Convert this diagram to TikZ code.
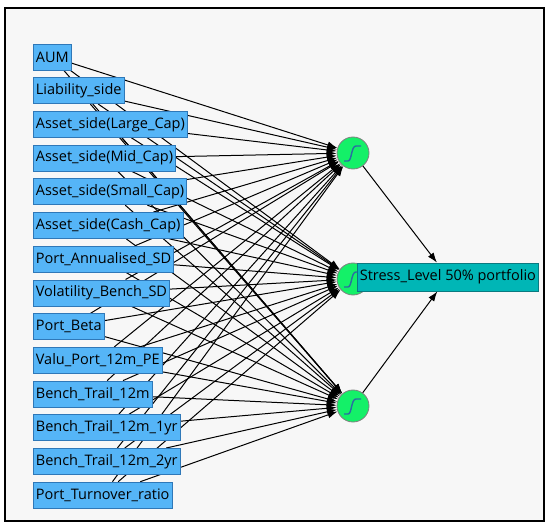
\documentclass[tikz,border=0pt]{standalone}
\usepackage{fontspec}
\setmainfont{Open Sans}
\usetikzlibrary{arrows.meta}
\pgfdeclarelayer{bg}
\pgfdeclarelayer{edges}
\pgfsetlayers{bg,edges,main}
\definecolor{inblue}{HTML}{55B5F7}
\definecolor{inborder}{HTML}{2F78B8}
\definecolor{hgreen}{HTML}{14F068}
\definecolor{outteal}{HTML}{00B6B6}
\definecolor{outborder}{HTML}{0A7A80}
\definecolor{bgray}{HTML}{F7F7F7}
\definecolor{sigblue}{HTML}{2B6CA3}
\begin{document}
\begin{tikzpicture}[x=1pt,y=-1pt,
  inbox/.style={draw=inborder, fill=inblue, line width=0.8pt, anchor=west,
    minimum height=26pt, inner xsep=2.5pt, inner ysep=0pt,
    font=\fontsize{14.5}{17}\selectfont},
  outbox/.style={draw=outborder, fill=outteal, line width=0.8pt, anchor=west,
    minimum height=28pt, inner xsep=2.5pt, inner ysep=0pt,
    font=\fontsize{14.5}{17}\selectfont},
  hid/.style={circle, draw=gray, fill=hgreen, line width=0.8pt, minimum size=32pt, inner sep=0pt},
  conn/.style={line width=1pt, -{Latex[length=10pt,width=7pt]}},
  sig/.style={draw=sigblue, line width=1.4pt}
]
\useasboundingbox (0,0) rectangle (550,527);
\begin{pgfonlayer}{bg}
  \fill[white] (0,0) rectangle (550,527);
  \draw[line width=2.5pt, fill=bgray] (5,8) rectangle (544,521);
\end{pgfonlayer}

\node[inbox] (i1)  at (33,57)    {AUM};
\node[inbox] (i2)  at (33,90.7)  {Liability\_side};
\node[inbox] (i3)  at (33,124.4) {Asset\_side(Large\_Cap)};
\node[inbox] (i4)  at (33,158.1) {Asset\_side(Mid\_Cap)};
\node[inbox] (i5)  at (33,191.8) {Asset\_side(Small\_Cap)};
\node[inbox] (i6)  at (33,225.5) {Asset\_side(Cash\_Cap)};
\node[inbox] (i7)  at (33,259.2) {Port\_Annualised\_SD};
\node[inbox] (i8)  at (33,292.9) {Volatility\_Bench\_SD};
\node[inbox] (i9)  at (33,326.6) {Port\_Beta};
\node[inbox] (i10) at (33,360.3) {Valu\_Port\_12m\_PE};
\node[inbox] (i11) at (33,394)   {Bench\_Trail\_12m};
\node[inbox] (i12) at (33,427.7) {Bench\_Trail\_12m\_1yr};
\node[inbox] (i13) at (33,461.4) {Bench\_Trail\_12m\_2yr};
\node[inbox] (i14) at (33,495.1) {Port\_Turnover\_ratio};

\node[hid] (h1) at (353,153) {};
\node[hid] (h2) at (353,279) {};
\node[hid] (h3) at (353,406) {};
\foreach \h in {h1,h2,h3}{
  \draw[sig, shift={(\h.center)}] (-9,8) -- (-5,8) .. controls (-1,8) and (-2,-7) .. (3,-7) -- (8,-7);
}

\begin{pgfonlayer}{edges}
  \foreach \i in {1,...,14}{
    \foreach \j in {1,2,3}{
      \draw[conn] (i\i) -- (h\j);
    }
  }
\end{pgfonlayer}

\node[outbox] (o) at (357,277) {Stress\_Level 50\% portfolio};
\draw[conn] (h1) -- (o);
\draw[conn] (h3) -- (o);
\end{tikzpicture}
\end{document}
